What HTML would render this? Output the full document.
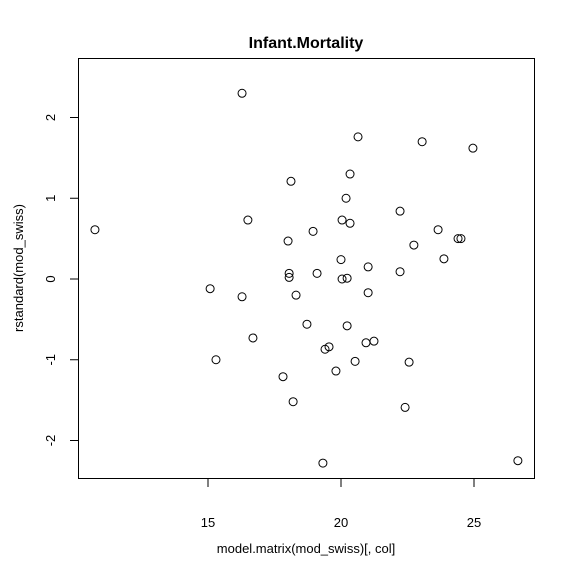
<!DOCTYPE html>
<html><head><meta charset="utf-8"><style>
html,body{margin:0;padding:0;background:#fff;}
svg{display:block;font-family:"Liberation Sans",Arial,sans-serif;}
</style></head><body>
<svg id="chart" width="576" height="576" viewBox="0 0 576 576">
<rect width="576" height="576" fill="#fff"/>
<text x="306" y="48" text-anchor="middle" font-size="16" font-weight="bold">Infant.Mortality</text>
<rect x="78.5" y="58.5" width="456" height="420" fill="none" stroke="#000" stroke-width="1"/>
<g id="xaxis"></g>
<g id="yaxis"></g>
<text x="306" y="553" text-anchor="middle" font-size="13">model.matrix(mod_swiss)[, col]</text>
<text transform="translate(23,268) rotate(-90)" text-anchor="middle" font-size="13">rstandard(mod_swiss)</text>
<g id="points"></g>
</svg>
<script>
const xValues=[10.75,16.28,20.64,23.05,24.96,20.34,18.12,20.19,22.22,16.50,20.04,20.34,23.65,18.95,24.51,24.40,18.01,22.74,23.87,20.0,21.02,18.05,19.10,22.22,18.05,20.04,20.23,15.08,21.02,16.28,18.31,18.72,20.23,16.69,21.24,20.94,19.55,19.40,15.30,20.53,22.56,19.81,17.82,18.20,22.41,19.32,26.65];
const yValues=[0.61,2.30,1.76,1.70,1.62,1.30,1.21,1.00,0.84,0.73,0.73,0.69,0.61,0.59,0.50,0.50,0.47,0.42,0.25,0.24,0.15,0.07,0.07,0.09,0.02,0.0,0.01,-0.12,-0.17,-0.22,-0.20,-0.56,-0.58,-0.73,-0.77,-0.79,-0.84,-0.87,-1.00,-1.02,-1.03,-1.14,-1.21,-1.52,-1.59,-2.28,-2.25];
const xTicks=[15,20,25];
const yTicks=[-2,-1,0,1,2];
const NS="http://www.w3.org/2000/svg";
function sx(v){return 341+(v-20)*26.6;}
function sy(v){return 279-v*80.75;}
function mk(tag,attrs,parent,text){const e=document.createElementNS(NS,tag);for(const k in attrs)e.setAttribute(k,attrs[k]);if(text!==undefined)e.textContent=text;parent.appendChild(e);return e;}
const xa=document.getElementById('xaxis'),ya=document.getElementById('yaxis'),pts=document.getElementById('points');
xTicks.forEach(t=>{
 const l=mk('line',{x1:sx(t),x2:sx(t),y1:478.5,y2:487,stroke:'#000'},xa);
 
 
 const tx=mk('text',{x:sx(t),y:527,'text-anchor':'middle','font-size':13},xa,String(t));
 
 
});
yTicks.forEach(t=>{
 const l=mk('line',{x1:70,x2:78.5,y1:sy(t),y2:sy(t),stroke:'#000'},ya);
 
 
 const tx=mk('text',{transform:`translate(55,${sy(t)}) rotate(-90)`,'text-anchor':'middle','font-size':13},ya,String(t));
 
 
});
xValues.forEach((v,i)=>{
 const c=mk('circle',{cx:sx(v),cy:sy(yValues[i]),r:4,fill:'none',stroke:'#000','stroke-width':1},pts);
 
 
});
</script>
</body></html>
